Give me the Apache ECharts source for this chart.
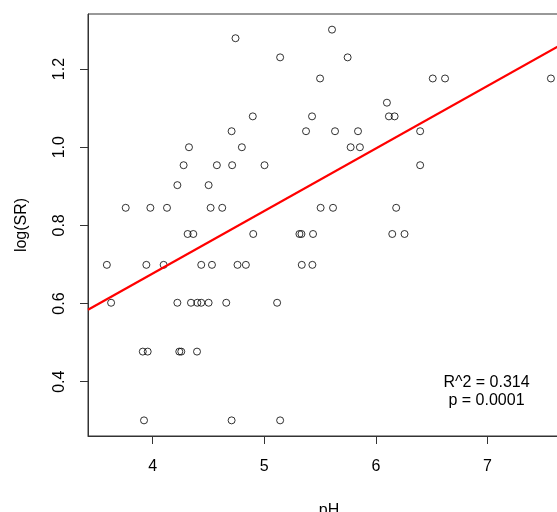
<!DOCTYPE html>
<html><head><meta charset="utf-8">
<script src="https://cdn.jsdelivr.net/npm/echarts@6/dist/echarts.min.js"></script>
<style>html,body{margin:0;padding:0;background:#fff}#c{width:557px;height:512px}</style>
</head><body><div id="c"></div>
<script>
const pH = [
  5.607,
  4.742,
  5.142, 5.747,
  5.50, 6.51, 6.62, 7.569,
  6.099,
  4.897, 5.428, 6.117, 6.168,
  4.707, 5.374, 5.634, 5.84, 6.397,
  4.325, 4.799, 5.774, 5.857,
  4.277, 4.575, 4.712, 5.002, 6.397,
  4.221, 4.501,
  3.758, 3.979, 4.128, 4.519, 4.623, 5.505, 5.616, 6.182,
  4.313, 4.364, 4.901, 5.315, 5.333, 5.437, 6.147, 6.257,
  3.589, 3.943, 4.098, 4.435, 4.531, 4.760, 4.835, 5.336, 5.431,
  3.627, 4.221, 4.343, 4.40, 4.435, 4.501, 4.659, 5.115,
  3.911, 3.955, 4.238, 4.256, 4.397,
  3.922, 4.707, 5.142
];
const logSR = [
  1.301,
  1.279,
  1.230, 1.230,
  1.176, 1.176, 1.176, 1.176,
  1.114,
  1.079, 1.079, 1.079, 1.079,
  1.041, 1.041, 1.041, 1.041, 1.041,
  1.000, 1.000, 1.000, 1.000,
  0.954, 0.954, 0.954, 0.954, 0.954,
  0.903, 0.903,
  0.845, 0.845, 0.845, 0.845, 0.845, 0.845, 0.845, 0.845,
  0.778, 0.778, 0.778, 0.778, 0.778, 0.778, 0.778, 0.778,
  0.699, 0.699, 0.699, 0.699, 0.699, 0.699, 0.699, 0.699, 0.699,
  0.602, 0.602, 0.602, 0.602, 0.602, 0.602, 0.602, 0.602,
  0.477, 0.477, 0.477, 0.477, 0.477,
  0.301, 0.301, 0.301
];
const xTicks = [4, 5, 6, 7];
const yTicks = [0.4, 0.6, 0.8, 1.0, 1.2];
const xRange = [3.42, 7.74];
const yRange = [0.261, 1.341];
const fitIntercept = 0.037;
const fitSlope = 0.160;
const annotation = ['R^2 = 0.314', 'p = 0.0001'];
const xTitle = 'pH';
const yTitle = 'log(SR)';

const font = 'Liberation Sans, Arial, sans-serif';
const points = pH.map((x, i) => [x, logSR[i]]);
const fitLine = xRange.map(x => [x, fitIntercept + fitSlope * x]);

const chart = echarts.init(document.getElementById('c'), null, {renderer: 'canvas'});
chart.setOption({
  animation: false,
  backgroundColor: '#fff',
  grid: {left: 88, top: 14, width: 482, height: 422, outerBoundsMode: 'none', containLabel: false,
    show: true, borderColor: '#333', borderWidth: 1, backgroundColor: 'transparent'},
  xAxis: {
    type: 'value', min: xRange[0], max: xRange[1],
    name: xTitle, nameLocation: 'middle', nameGap: 67,
    nameTextStyle: {fontFamily: font, fontSize: 16, color: '#000'},
    axisLine: {show: true, onZero: false, lineStyle: {color: '#333'}},
    axisTick: {show: true, length: 8, customValues: xTicks, lineStyle: {color: '#333'}},
    axisLabel: {customValues: xTicks, margin: 23, fontFamily: font, fontSize: 16, color: '#000'},
    splitLine: {show: false}
  },
  yAxis: {
    type: 'value', min: yRange[0], max: yRange[1],
    name: yTitle, nameLocation: 'middle', nameGap: 58, nameRotate: 90,
    nameTextStyle: {fontFamily: font, fontSize: 16, color: '#000'},
    axisLine: {show: true, onZero: false, lineStyle: {color: '#333'}},
    axisTick: {show: true, length: 8, customValues: yTicks, lineStyle: {color: '#333'}},
    axisLabel: {customValues: yTicks, rotate: 90, margin: 20, fontFamily: font, fontSize: 16, color: '#000',
      formatter: v => v.toFixed(1)},
    splitLine: {show: false}
  },
  series: [
    {
      type: 'scatter', data: points, symbol: 'circle', symbolSize: 7,
      itemStyle: {color: 'transparent', borderColor: '#000', borderWidth: 1}
    },
    {
      type: 'line', data: fitLine, symbol: 'none', clip: true,
      lineStyle: {color: '#ff0000', width: 2.2}, z: 3
    }
  ],
  graphic: annotation.map((t, i) => ({
    type: 'text', x: 486.5, y: 382.7 + i * 18, z: 10,
    style: {text: t, textAlign: 'center', textVerticalAlign: 'middle', fontFamily: font, fontSize: 16, fill: '#000'}
  }))
});
</script></body></html>
